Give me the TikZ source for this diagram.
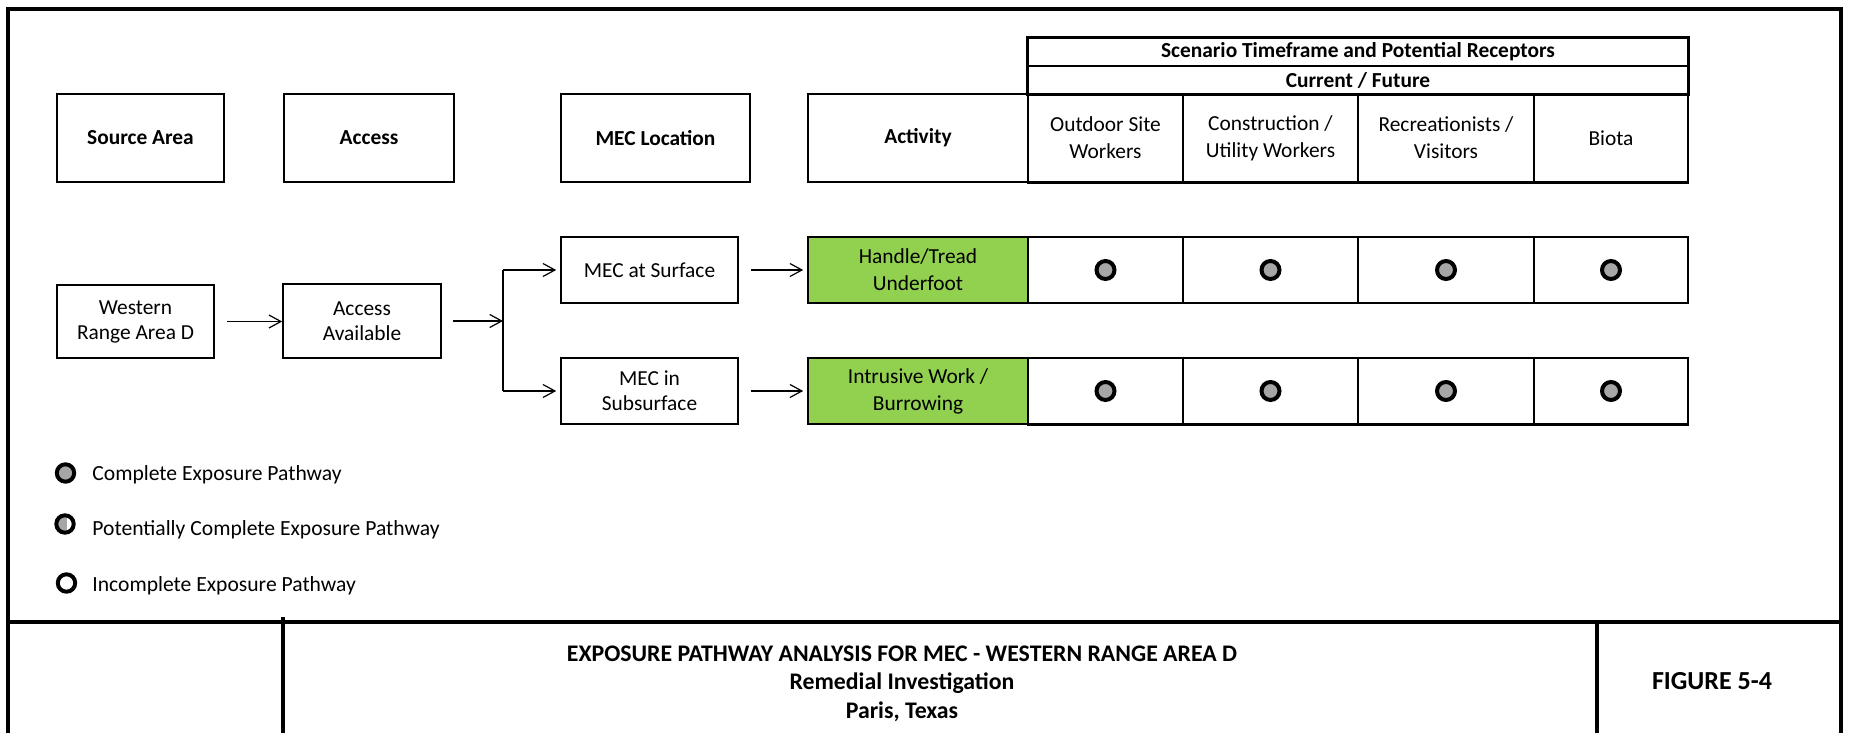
\documentclass[tikz,border=0pt]{standalone}
\usepackage{fontspec}
\setmainfont{Carlito}
\usetikzlibrary{arrows.meta}
\definecolor{lgreen}{RGB}{146,208,80}
\definecolor{dotgray}{RGB}{166,166,166}
\tikzset{
  base/.style={draw, line width=0.8pt, align=center, inner sep=0pt,
    font=\fontsize{10.7}{13.5}\selectfont},
  hdr/.style={base, font=\fontsize{10.7}{13.5}\selectfont\bfseries, minimum height=44pt},
  rcp/.style={base, minimum height=44pt},
  toprow/.style={base, font=\fontsize{10.7}{13.5}\selectfont\bfseries, minimum height=14pt, minimum width=330pt},
  flow/.style={base, font=\fontsize{10.7}{12.5}\selectfont},
  cell/.style={base, minimum height=33pt},
  act/.style={base, fill=lgreen, minimum height=33pt, minimum width=110pt},
  conn/.style={line width=0.6pt, -{Straight Barb[length=6pt,width=6.5pt]}},
  dotmark/.style={circle, draw, line width=2pt, fill=dotgray, inner sep=0pt, minimum size=9pt},
  legmark/.style={circle, draw, line width=2pt, inner sep=0pt, minimum size=8.7pt},
  legtext/.style={anchor=west, inner sep=0pt, font=\fontsize{10.8}{12.5}\selectfont},
  framerule/.style={line width=2pt},
  thickrule/.style={line width=1.4pt}
}
\begin{document}
\begin{tikzpicture}[x=0.5pt,y=-0.5pt]
\useasboundingbox (0,0) rectangle (1849,733);

% outer frame and title block
\draw[framerule] (8,735) -- (8,9) -- (1841,9) -- (1841,735);
\draw[framerule] (8,622) -- (1841,622);
\draw[framerule] (283,617) -- (283,735);
\draw[framerule] (1597,622) -- (1597,735);

% header row
\node[hdr, minimum width=83.5pt] (hsrc) at (140.5,138) {Source Area};
\node[hdr, minimum width=85pt] (hacc) at (369,138) {Access};
\node[hdr, minimum width=94.5pt] (hloc) at (655.5,138) {MEC Location};
\node[hdr, minimum width=110pt] (hact) at (918,138) {Activity};
\node[rcp, minimum width=77.5pt] (hr1) at (1105.5,138) {Outdoor Site\\Workers};
\node[rcp, minimum width=87.5pt] (hr2) at (1270.5,138) {Construction /\\Utility Workers};
\node[rcp, minimum width=88pt] (hr3) at (1446,138) {Recreationists /\\Visitors};
\node[rcp, minimum width=77pt] (hr4) at (1611,138) {Biota};
\node[toprow] (scen) at (1358,52) {Scenario Timeframe and Potential Receptors};
\node[toprow] (cur) at (1358,80) {Current / Future};
\draw[thickrule] (scen.north west) rectangle (cur.south east);
\draw[thickrule] (hr1.south west) -- (hr4.south east);

% flow boxes
\node[flow, minimum width=78.5pt, minimum height=36.5pt] (wra) at (135.5,321.5) {Western\\Range Area D};
\node[flow, minimum width=79pt, minimum height=37pt] (aa) at (362,321) {Access\\Available};
\node[flow, minimum width=88.5pt, minimum height=33pt] (surf) at (649.5,270) {MEC at Surface};
\node[flow, minimum width=88.5pt, minimum height=33pt] (sub) at (649.5,391) {MEC in\\Subsurface};
\node[act] (handle) at (918,270) {Handle/Tread\\Underfoot};
\node[act] (intr) at (918,391) {Intrusive Work /\\Burrowing};

% receptor cells
\node[cell, minimum width=77.5pt] (c11) at (1105.5,270) {};
\node[cell, minimum width=87.5pt] (c12) at (1270.5,270) {};
\node[cell, minimum width=88pt] (c13) at (1446,270) {};
\node[cell, minimum width=77pt] (c14) at (1611,270) {};
\node[cell, minimum width=77.5pt] (c21) at (1105.5,391) {};
\node[cell, minimum width=87.5pt] (c22) at (1270.5,391) {};
\node[cell, minimum width=88pt] (c23) at (1446,391) {};
\node[cell, minimum width=77pt] (c24) at (1611,391) {};
\draw[thickrule] (c21.south west) -- (c24.south east);

\foreach \r in {1,2}{
  \foreach \c in {1,2,3,4}{
    \node[dotmark] (d\r\c) at (c\r\c.center) {};
  }
}

% connectors
\coordinate (jt) at (503,270);
\coordinate (jb) at (503,391);
\coordinate (jm) at (503,320);
\draw[conn, shorten <=6pt] (wra.east) -- (wra.east -| aa.west);
\draw[conn, shorten <=5.5pt] (aa.east) -- (aa.east -| jm);
\draw[line width=0.6pt] (jt) -- (jb);
\draw[conn, shorten >=2pt] (jt) -- (surf.west);
\draw[conn, shorten >=2pt] (jb) -- (sub.west);
\draw[conn, shorten <=6pt, shorten >=2pt] (surf.east) -- (handle.west);
\draw[conn, shorten <=6pt, shorten >=2pt] (sub.east) -- (intr.west);

% legend
\node[legmark, fill=dotgray] (lg1) at (65.5,473) {};
\node[legtext] (lt1) at (92,475) {Complete Exposure Pathway};
\node[legmark, fill=dotgray, path picture={\fill[white] ([xshift=1.2pt]path picture bounding box.north) rectangle (path picture bounding box.south east);}] (lg2) at (65,524) {};
\node[legtext] (lt2) at (92,530) {Potentially Complete Exposure Pathway};
\node[legmark, fill=white] (lg3) at (66.5,583) {};
\node[legtext] (lt3) at (92,586) {Incomplete Exposure Pathway};

% title block text
\node[align=center, inner sep=0pt, font=\fontsize{11.9}{14.2}\selectfont\bfseries] (title) at (902,683.5)
  {EXPOSURE PATHWAY ANALYSIS FOR MEC - WESTERN RANGE AREA D\\Remedial Investigation\\Paris, Texas};
\node[inner sep=0pt, font=\fontsize{13}{15}\selectfont\bfseries] (fig) at (1712,681) {FIGURE 5-4};
\end{tikzpicture}
\end{document}
